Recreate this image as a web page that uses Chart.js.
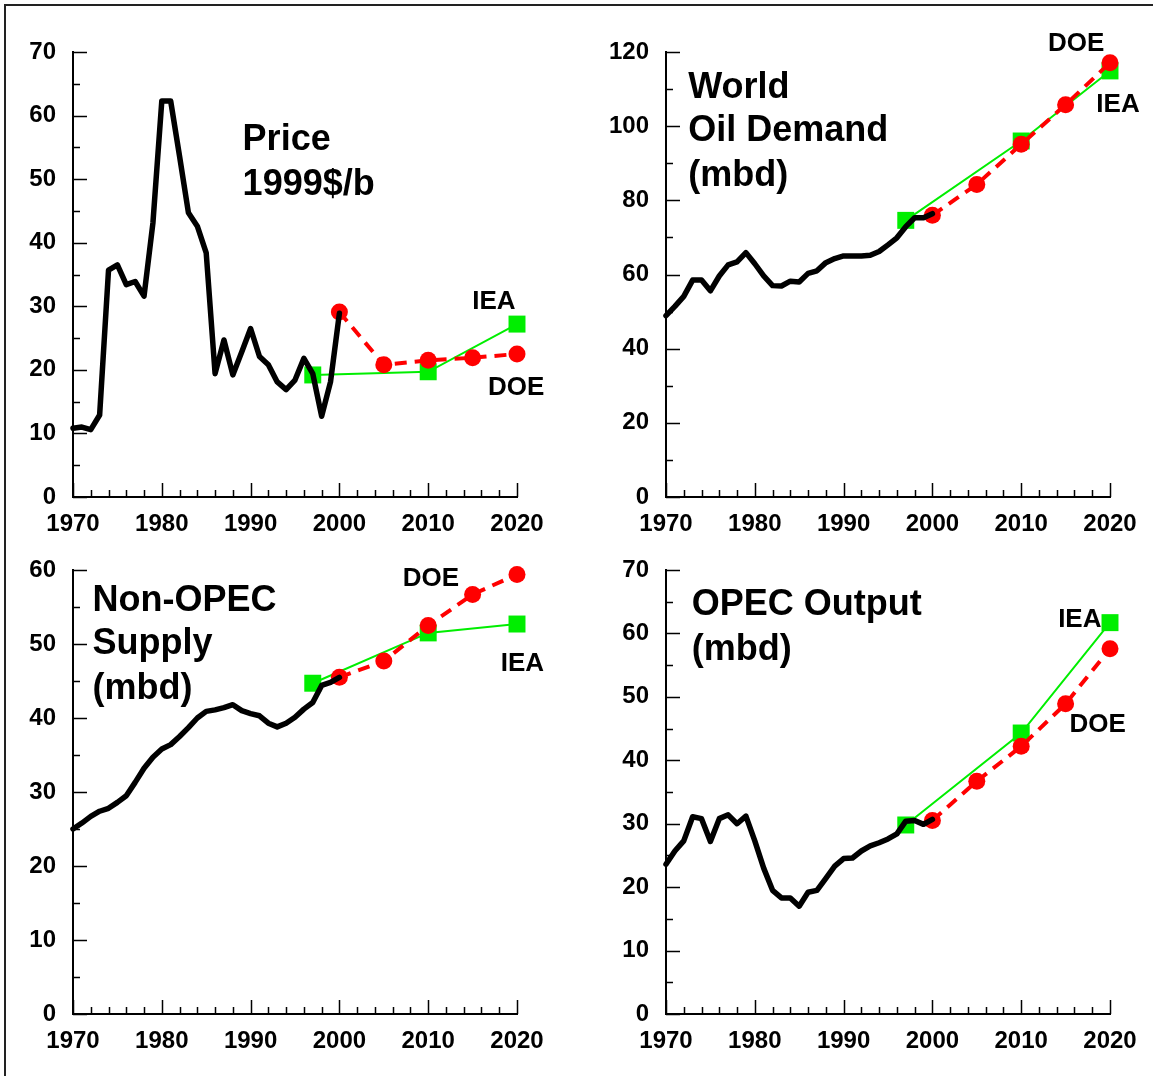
<!DOCTYPE html>
<html>
<head>
<meta charset="utf-8">
<title>Oil price, demand and supply projections</title>
<script src="https://cdn.jsdelivr.net/npm/chart.js@4.4.0/dist/chart.umd.min.js"></script>
<style>
  body { margin: 0; background: #fff; }
  #page { position: relative; width: 1153px; height: 1076px; overflow: hidden; background: #fff; }
  #frame { position: absolute; left: 4px; top: 4px; width: 1200px; height: 1200px;
           border-left: 2px solid #222; border-top: 2px solid #222; }
  .panel { position: absolute; }
</style>
</head>
<body>
<div id="page">
  <div id="frame"></div>
  <div class="panel" style="left:0;top:0"><canvas id="priceChart" width="576" height="538"></canvas></div>
  <div class="panel" style="left:576px;top:0"><canvas id="demandChart" width="577" height="538"></canvas></div>
  <div class="panel" style="left:0;top:538px"><canvas id="nonOpecChart" width="576" height="538"></canvas></div>
  <div class="panel" style="left:576px;top:538px"><canvas id="opecChart" width="577" height="538"></canvas></div>
</div>
<script>
// historical years and values
var histYears = [1970, 1971, 1972, 1973, 1974, 1975, 1976, 1977, 1978, 1979,
                 1980, 1981, 1982, 1983, 1984, 1985, 1986, 1987, 1988, 1989,
                 1990, 1991, 1992, 1993, 1994, 1995, 1996, 1997, 1998, 1999, 2000];
var priceHist = [10.8, 11.0, 10.6, 12.9, 35.7, 36.5, 33.4, 33.9, 31.6, 43.1,
                 62.3, 62.3, 53.6, 44.7, 42.6, 38.4, 19.4, 24.7, 19.2, 22.8,
                 26.5, 22.1, 20.8, 18.1, 16.9, 18.4, 21.8, 19.4, 12.7, 18.1, 28.9];
var demandHist = [48.9, 51.4, 54.1, 58.5, 58.5, 55.6, 59.6, 62.6, 63.4, 65.9,
                  62.9, 59.6, 57.0, 56.9, 58.2, 58.0, 60.3, 61.0, 63.2, 64.3,
                  65.0, 65.0, 65.0, 65.2, 66.2, 68.0, 69.9, 72.9, 75.3, 75.3, 76.4];
var nonOpecHist = [25.0, 25.8, 26.7, 27.4, 27.8, 28.6, 29.5, 31.3, 33.2, 34.7,
                   35.8, 36.4, 37.5, 38.7, 40.0, 40.9, 41.1, 41.4, 41.8, 41.0,
                   40.6, 40.3, 39.3, 38.8, 39.3, 40.1, 41.2, 42.1, 44.4, 44.8, 45.5];
var opecHist = [23.6, 25.7, 27.3, 31.1, 30.8, 27.2, 30.8, 31.4, 30.0, 31.2,
                27.3, 23.0, 19.5, 18.3, 18.3, 17.0, 19.2, 19.5, 21.4, 23.3,
                24.5, 24.6, 25.7, 26.5, 27.0, 27.6, 28.4, 30.4, 30.5, 29.9, 30.7];

// projections
var doeYears = [2000, 2005, 2010, 2015, 2020];
var ieaYears = [1997, 2010, 2020];
var priceDoe = [29.1, 20.8, 21.5, 21.9, 22.5];
var priceIea = [19.2, 19.7, 27.2];
var demandDoe = [76.0, 84.3, 95.1, 105.8, 117.1];
var demandIea = [74.6, 96.0, 114.9];
var nonOpecDoe = [45.5, 47.7, 52.5, 56.7, 59.4];
var nonOpecIea = [44.7, 51.5, 52.7];
var opecDoe = [30.5, 36.7, 42.2, 48.9, 57.6];
var opecIea = [29.8, 44.3, 61.7];

// tick labels
var xTicks = [1970, 1980, 1990, 2000, 2010, 2020];
var priceTicks = [0, 10, 20, 30, 40, 50, 60, 70];
var demandTicks = [0, 20, 40, 60, 80, 100, 120];
var nonOpecTicks = [0, 10, 20, 30, 40, 50, 60];
var opecTicks = [0, 10, 20, 30, 40, 50, 60, 70];

var FONT = '"Liberation Sans", Arial, Helvetica, sans-serif';

function pts(xs, ys) {
    return xs.map(function (x, i) { return { x: x, y: ys[i] }; });
}

// small tick marks pointing into the plot, like the original
var innerTicks = {
    id: 'innerTicks',
    beforeDatasetsDraw: function (chart, args, opts) {
        var ctx = chart.ctx, xs = chart.scales.x, ys = chart.scales.y, area = chart.chartArea;
        ctx.save();
        ctx.strokeStyle = '#000';
        ctx.lineWidth = 1.5;
        ctx.beginPath();
        var i, v, p, len;
        for (i = 0; xs.min + i * opts.xMinor <= xs.max; i++) {
            v = xs.min + i * opts.xMinor;
            p = Math.round(xs.getPixelForValue(v)) + 0.5;
            len = (i * opts.xMinor) % opts.xMajor === 0 ? 14 : 7;
            ctx.moveTo(p, area.bottom);
            ctx.lineTo(p, area.bottom - len);
        }
        for (i = 0; ys.min + i * opts.yMinor <= ys.max; i++) {
            v = ys.min + i * opts.yMinor;
            p = Math.round(ys.getPixelForValue(v)) + 0.5;
            len = (i * opts.yMinor) % opts.yMajor === 0 ? 14 : 7;
            ctx.moveTo(area.left, p);
            ctx.lineTo(area.left + len, p);
        }
        ctx.stroke();
        ctx.restore();
    }
};

// titles and DOE / IEA labels placed in data units
var notes = {
    id: 'notes',
    afterDatasetsDraw: function (chart, args, opts) {
        var ctx = chart.ctx, xs = chart.scales.x, ys = chart.scales.y;
        ctx.save();
        ctx.fillStyle = '#000';
        ctx.textBaseline = 'alphabetic';
        opts.items.forEach(function (it) {
            ctx.font = 'bold ' + it.size + 'px ' + FONT;
            ctx.textAlign = it.align || 'center';
            ctx.fillText(it.text, xs.getPixelForValue(it.x), ys.getPixelForValue(it.y));
        });
        ctx.restore();
    }
};

function makePanel(id, hist, doe, iea, yTicks, yMajor, yMinor, padTop, padRight, yWidth, xHeight, items) {
    var tickFont = { family: FONT, size: 24, weight: 'bold' };
    return new Chart(document.getElementById(id), {
        type: 'line',
        data: {
            datasets: [{
                label: 'History',
                data: pts(histYears, hist),
                borderColor: '#000',
                borderWidth: 5.5,
                borderJoinStyle: 'round',
                borderCapStyle: 'round',
                pointRadius: 0,
                clip: false
            }, {
                label: 'DOE',
                data: pts(doeYears, doe),
                borderColor: '#ff0000',
                borderWidth: 4,
                borderDash: [12, 8],
                pointRadius: 8.5,
                pointBackgroundColor: '#ff0000',
                pointBorderWidth: 0,
                clip: false
            }, {
                label: 'IEA',
                data: pts(ieaYears, iea),
                borderColor: '#00ee00',
                borderWidth: 2,
                pointStyle: 'rect',
                pointRadius: 12,
                pointBackgroundColor: '#00ee00',
                pointBorderWidth: 0,
                clip: false
            }]
        },
        options: {
            responsive: false,
            animation: false,
            devicePixelRatio: 1,
            layout: { padding: { top: padTop, right: padRight, left: 0, bottom: 0 } },
            plugins: {
                legend: { display: false },
                tooltip: { enabled: false },
                innerTicks: { xMajor: 10, xMinor: 2, yMajor: yMajor, yMinor: yMinor },
                notes: { items: items }
            },
            scales: {
                x: {
                    type: 'linear',
                    min: 1970,
                    max: 2020,
                    afterBuildTicks: function (s) { s.ticks = xTicks.map(function (v) { return { value: v }; }); },
                    afterFit: function (s) { s.height = xHeight; },
                    grid: { display: false, drawTicks: false },
                    border: { color: '#000', width: 2 },
                    ticks: {
                        color: '#000', font: tickFont, padding: 13, maxRotation: 0, autoSkip: false,
                        callback: function (v) { return String(v); }
                    }
                },
                y: {
                    type: 'linear',
                    min: yTicks[0],
                    max: yTicks[yTicks.length - 1],
                    afterBuildTicks: function (s) { s.ticks = yTicks.map(function (v) { return { value: v }; }); },
                    afterFit: function (s) { s.width = yWidth; },
                    grid: { display: false, drawTicks: false },
                    border: { color: '#000', width: 2 },
                    ticks: {
                        color: '#000', font: tickFont, padding: 17, autoSkip: false,
                        callback: function (v) { return String(v); }
                    }
                }
            }
        },
        plugins: [innerTicks, notes]
    });
}

makePanel('priceChart', priceHist, priceDoe, priceIea, priceTicks, 10, 5, 52, 59, 73, 41, [
    { x: 1989.1, y: 54.6, text: 'Price', size: 36, align: 'left' },
    { x: 1989.1, y: 47.5, text: '1999$/b', size: 36, align: 'left' },
    { x: 2017.4, y: 29.65, text: 'IEA', size: 26 },
    { x: 2019.9, y: 16.0, text: 'DOE', size: 26 }
]);

makePanel('demandChart', demandHist, demandDoe, demandIea, demandTicks, 20, 10, 52, 43, 90, 41, [
    { x: 1972.5, y: 107.7, text: 'World', size: 36, align: 'left' },
    { x: 1972.5, y: 96.1, text: 'Oil Demand', size: 36, align: 'left' },
    { x: 1972.5, y: 83.9, text: '(mbd)', size: 36, align: 'left' },
    { x: 2016.2, y: 120.2, text: 'DOE', size: 26 },
    { x: 2020.9, y: 103.9, text: 'IEA', size: 26 }
]);

makePanel('nonOpecChart', nonOpecHist, nonOpecDoe, nonOpecIea, nonOpecTicks, 10, 5, 32, 59, 73, 62, [
    { x: 1972.2, y: 54.5, text: 'Non-OPEC', size: 36, align: 'left' },
    { x: 1972.2, y: 48.6, text: 'Supply', size: 36, align: 'left' },
    { x: 1972.2, y: 42.6, text: '(mbd)', size: 36, align: 'left' },
    { x: 2010.3, y: 57.8, text: 'DOE', size: 26 },
    { x: 2020.6, y: 46.3, text: 'IEA', size: 26 }
]);

makePanel('opecChart', opecHist, opecDoe, opecIea, opecTicks, 10, 5, 32, 43, 90, 62, [
    { x: 1972.9, y: 62.9, text: 'OPEC Output', size: 36, align: 'left' },
    { x: 1972.9, y: 55.8, text: '(mbd)', size: 36, align: 'left' },
    { x: 2016.6, y: 61.0, text: 'IEA', size: 26 },
    { x: 2018.6, y: 44.5, text: 'DOE', size: 26 }
]);
</script>
</body>
</html>
